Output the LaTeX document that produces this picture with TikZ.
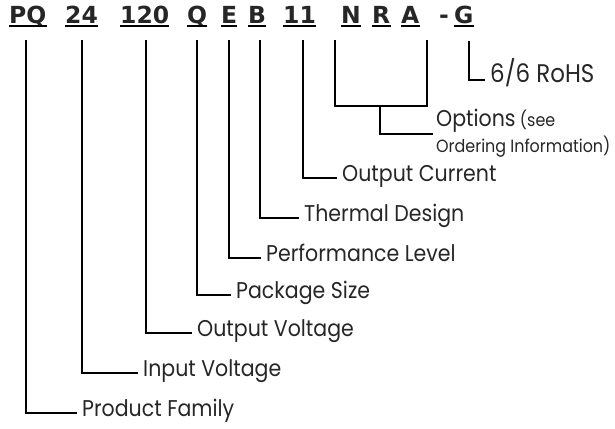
\documentclass[tikz,border=0pt]{standalone}
\usepackage{fontspec}
\newfontfamily\hdrfont{DejaVu Sans}
\newfontfamily\labfont[FakeStretch=0.9]{Poppins}
\begin{document}
\begin{tikzpicture}[x=1pt,y=-1pt,
  conn/.style={line width=2pt, line cap=rect, line join=miter},
  hdr/.style={anchor=base west, inner sep=0pt, font=\hdrfont\bfseries\fontsize{23.5}{23.5}\selectfont, text=black!85},
  lab/.style={anchor=west, inner xsep=6pt, inner ysep=0pt, text height=0.7em, text depth=0pt, font=\labfont\fontsize{22.8}{22.8}\selectfont, text=black!85}
]
\useasboundingbox (0,0) rectangle (615,428);
% header segments
\node[hdr] (hPQ) at (9,24) {PQ};
\node[hdr] (h24) at (65,24) {24};
\node[hdr] (h120) at (120,24) {120};
\node[hdr] (hQ) at (187,24) {Q};
\node[hdr] (hE) at (221,24) {E};
\node[hdr] (hB) at (248,24) {B};
\node[hdr] (h11) at (283,24) {11};
\node[hdr] (hN) at (341,24) {N};
\node[hdr] (hR) at (372,24) {R};
\node[hdr] (hA) at (401,24) {A};
\node[hdr] (hdash) at (439,24) {-};
\node[hdr] (hG) at (454,24) {G};
\foreach \n in {hPQ,h24,h120,hQ,hE,hB,h11,hN,hR,hA,hG}
  \draw[line width=2pt] ([yshift=-2.5pt]\n.base west) -- ([yshift=-2.5pt]\n.base east);
% tops of connectors
\coordinate (tPQ) at (26,41);
\coordinate (t24) at (82,41);
\coordinate (t120) at (146,41);
\coordinate (tQ) at (197,41);
\coordinate (tE) at (229,41);
\coordinate (tB) at (260,41);
\coordinate (t11) at (303,41);
\coordinate (tN) at (335,41);
\coordinate (tA) at (427,41);
\coordinate (tG) at (469,42);
\coordinate (bNRA) at (380,106);
\coordinate (eOpt) at (432,134);
% labels
\node[lab] (lPF) at (76,413) {Product Family};
\node[lab] (lIV) at (137,373) {Input Voltage};
\node[lab] (lOV) at (191,333) {Output Voltage};
\node[lab] (lPS) at (230,295) {Package Size};
\node[lab] (lPL) at (260,258) {Performance Level};
\node[lab] (lTD) at (298,218) {Thermal Design};
\node[lab] (lOC) at (336,178) {Output Current};
\node[lab, font=\labfont\fontsize{25.5}{25.5}\selectfont] (lRH) at (484,79) {6/6 RoHS};
\node[anchor=base west, inner sep=0pt, font=\labfont\fontsize{17.7}{26}\selectfont, text=black!85, align=left] (lOP) at (436,152)
  {{\fontsize{22.8}{26}\selectfont Options} (see\\
   Ordering Information)};
% connectors
\draw[conn] (tPQ) |- (lPF.west);
\draw[conn] (t24) |- (lIV.west);
\draw[conn] (t120) |- (lOV.west);
\draw[conn] (tQ) |- (lPS.west);
\draw[conn] (tE) |- (lPL.west);
\draw[conn] (tB) |- (lTD.west);
\draw[conn] (t11) |- (lOC.west);
\draw[conn] (tG) |- ([yshift=-1pt]lRH.west);
\draw[conn] (tN) |- (bNRA) -| (tA);
\draw[conn] (bNRA) |- (eOpt);
\end{tikzpicture}
\end{document}
